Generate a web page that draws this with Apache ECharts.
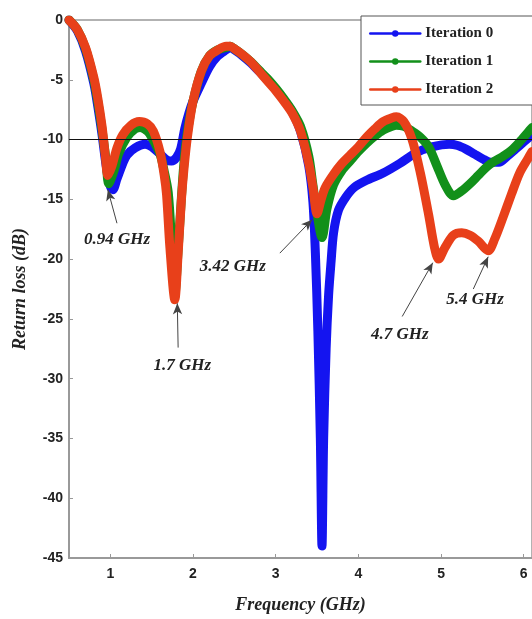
<!DOCTYPE html>
<html>
<head>
<meta charset="utf-8">
<script src="https://cdn.jsdelivr.net/npm/echarts@6/dist/echarts.min.js"></script>
<style>
  html, body { margin: 0; padding: 0; background: #fff; }
  #chart { width: 532px; height: 619px; }
</style>
</head>
<body>
<div id="chart"></div>
<script>
// Iteration 0 (blue)
var freq0 = [0.5, 0.6, 0.7, 0.8, 0.85, 0.9, 0.95, 1.0, 1.03, 1.08, 1.15, 1.2, 1.3, 1.42, 1.5, 1.6, 1.68, 1.74, 1.8, 1.85, 1.9, 1.95, 2.0, 2.1, 2.2, 2.3, 2.4, 2.45, 2.5, 2.6, 2.7, 2.8, 2.9, 3.0, 3.1, 3.2, 3.3, 3.4, 3.45, 3.48, 3.51, 3.54, 3.56, 3.58, 3.61, 3.64, 3.67, 3.7, 3.76, 3.85, 3.95, 4.1, 4.3, 4.5, 4.7, 4.9, 5.1, 5.2, 5.3, 5.4, 5.5, 5.6, 5.7, 5.8, 5.9, 6.0, 6.1];
var loss0 = [0, -0.9, -2.6, -5.3, -7.3, -9.6, -12.2, -13.9, -14.2, -13.3, -12.0, -11.3, -10.7, -10.4, -10.6, -11.2, -11.7, -11.8, -11.5, -10.8, -9.1, -7.8, -6.8, -5.3, -3.9, -3.0, -2.5, -2.3, -2.5, -3.0, -3.6, -4.3, -5.0, -5.8, -6.7, -7.7, -9.3, -12.2, -15.2, -19.5, -26.0, -35.0, -44.0, -35.0, -27.5, -23.0, -20.2, -17.8, -15.9, -14.8, -14.0, -13.4, -12.8, -12.0, -11.1, -10.6, -10.4, -10.5, -10.8, -11.2, -11.6, -11.9, -11.9, -11.4, -10.8, -10.2, -9.6];

// Iteration 1 (green)
var freq1 = [0.5, 0.6, 0.7, 0.8, 0.85, 0.9, 0.95, 0.98, 1.05, 1.1, 1.2, 1.3, 1.36, 1.45, 1.5, 1.6, 1.65, 1.7, 1.74, 1.78, 1.82, 1.86, 1.9, 1.95, 2.0, 2.1, 2.2, 2.3, 2.4, 2.45, 2.5, 2.6, 2.7, 2.8, 2.9, 3.0, 3.1, 3.2, 3.3, 3.4, 3.45, 3.5, 3.56, 3.62, 3.7, 3.8, 3.9, 4.0, 4.1, 4.2, 4.3, 4.4, 4.46, 4.55, 4.65, 4.75, 4.85, 4.95, 5.05, 5.15, 5.25, 5.35, 5.45, 5.55, 5.65, 5.75, 5.85, 5.95, 6.05, 6.1];
var loss1 = [0, -0.8, -2.4, -5.0, -6.9, -9.2, -11.8, -13.7, -12.5, -11.2, -9.8, -9.1, -9.0, -9.3, -9.8, -11.2, -12.6, -14.4, -18.5, -23.0, -19.2, -14.8, -11.2, -8.6, -6.8, -4.3, -3.0, -2.5, -2.3, -2.2, -2.4, -2.9, -3.5, -4.2, -4.9, -5.7, -6.6, -7.6, -8.9, -11.4, -13.8, -16.2, -18.2, -15.8, -13.8, -12.6, -11.8, -11.0, -10.3, -9.7, -9.2, -8.9, -8.8, -8.9, -9.3, -9.8, -10.6, -12.2, -13.8, -14.7, -14.3, -13.7, -13.0, -12.3, -11.8, -11.4, -10.9, -10.2, -9.4, -9.0];

// Iteration 2 (red)
var freq2 = [0.5, 0.6, 0.7, 0.8, 0.85, 0.9, 0.94, 0.97, 1.02, 1.08, 1.15, 1.25, 1.35, 1.45, 1.52, 1.6, 1.65, 1.68, 1.72, 1.78, 1.82, 1.86, 1.89, 1.93, 2.0, 2.1, 2.2, 2.3, 2.4, 2.45, 2.5, 2.6, 2.7, 2.8, 2.9, 3.0, 3.1, 3.2, 3.3, 3.4, 3.45, 3.5, 3.55, 3.6, 3.7, 3.8, 3.9, 4.0, 4.1, 4.2, 4.3, 4.4, 4.46, 4.55, 4.65, 4.75, 4.85, 4.92, 4.97, 5.05, 5.15, 5.25, 5.35, 5.45, 5.57, 5.65, 5.75, 5.85, 5.95, 6.05, 6.1];
var loss2 = [0, -0.8, -2.3, -4.8, -6.6, -8.9, -11.4, -13.0, -12.2, -10.7, -9.6, -8.8, -8.5, -8.7, -9.3, -11.0, -12.9, -14.6, -19.0, -23.4, -19.5, -15.0, -12.5, -9.9, -6.8, -4.3, -3.0, -2.5, -2.2, -2.2, -2.4, -2.9, -3.5, -4.3, -5.1, -5.9, -6.8, -7.8, -9.3, -12.0, -14.0, -16.2, -15.0, -14.0, -12.9, -12.0, -11.3, -10.6, -9.8, -9.1, -8.5, -8.2, -8.1, -8.5, -10.0, -12.8, -16.3, -19.0, -20.0, -19.0, -18.0, -17.8, -18.0, -18.5, -19.3, -18.3, -16.5, -14.6, -12.8, -11.6, -11.0];

var seriesNames = ['Iteration 0', 'Iteration 1', 'Iteration 2'];
var seriesColors = ['#1414f0', '#12901a', '#e8401a'];

var xTicks = [1, 2, 3, 4, 5, 6];

// annotations: text, text centre, arrow tail, arrow tip (data coords)
var annoText = ['0.94 GHz', '1.7 GHz', '3.42 GHz', '4.7 GHz', '5.4 GHz'];
var annoTextAt = [[1.08, -18.4], [1.87, -28.9], [2.48, -20.6], [4.50, -26.3], [5.41, -23.4]];
var annoTail = [[1.08, -17.0], [1.82, -27.4], [3.05, -19.5], [4.53, -24.8], [5.39, -22.5]];
var annoTip = [[0.97, -14.2], [1.81, -23.7], [3.44, -16.7], [4.90, -20.3], [5.57, -19.8]];

function pairs(xs, ys) {
    return xs.map(function (x, i) { return [x, ys[i]]; });
}

var chart = echarts.init(document.getElementById('chart'));

var labelFont = {
    fontFamily: 'Liberation Sans',
    fontWeight: 'bold',
    fontSize: 14,
    color: '#222'
};
var nameFont = {
    fontFamily: 'Liberation Serif',
    fontWeight: 'bold',
    fontStyle: 'italic',
    fontSize: 18,
    color: '#222'
};

var allData = [pairs(freq0, loss0), pairs(freq1, loss1), pairs(freq2, loss2)];

var series = allData.map(function (d, i) {
    return {
        name: seriesNames[i],
        type: 'line',
        data: d,
        smooth: 0.3,
        symbol: 'circle',
        symbolSize: 6,
        showSymbol: false,
        color: seriesColors[i],
        lineStyle: { width: 9, color: seriesColors[i], cap: 'round', join: 'round' },
        animation: false
    };
});

// -10 dB reference line and annotations go on the top series
series[2].markLine = {
    silent: true,
    animation: false,
    symbol: ['none', 'none'],
    label: { show: false },
    lineStyle: { color: '#111', width: 1, type: 'solid' },
    data: [{ yAxis: -10 }].concat(annoTail.map(function (t, i) {
        return [
            { coord: t, symbol: 'none', lineStyle: { color: '#444', width: 1 } },
            { coord: annoTip[i], symbol: 'arrow', symbolSize: [7, 11], lineStyle: { color: '#444', width: 1 }, itemStyle: { color: '#000' } }
        ];
    }))
};
series[2].markPoint = {
    silent: true,
    animation: false,
    symbol: 'circle',
    symbolSize: 1,
    itemStyle: { color: 'rgba(0,0,0,0)' },
    label: Object.assign({ show: true, position: 'inside', formatter: '{b}' }, nameFont, { fontSize: 17 }),
    data: annoTextAt.map(function (p, i) {
        return { name: annoText[i], coord: p };
    })
};

chart.setOption({
    backgroundColor: '#fff',
    animation: false,
    grid: {
        left: 69, right: 0, top: 20, bottom: 52,
        show: true, borderColor: '#999', borderWidth: 1.5
    },
    legend: {
        data: seriesNames,
        orient: 'vertical',
        left: 361, top: 16,
        padding: [10, 60, 8, 8],
        itemWidth: 50, itemHeight: 8, itemGap: 13,
        backgroundColor: '#fff',
        borderColor: '#555', borderWidth: 1,
        lineStyle: { width: 2.5 },
        textStyle: { fontFamily: 'Liberation Serif', fontWeight: 'bold', fontSize: 15, color: '#222' }
    },
    xAxis: {
        type: 'value',
        min: 0.5, max: 6.1,
        name: 'Frequency (GHz)',
        nameLocation: 'middle',
        nameGap: 38,
        nameTextStyle: nameFont,
        axisLine: { show: true, onZero: false, lineStyle: { color: '#999', width: 2 } },
        axisTick: { inside: true, length: 4, customValues: xTicks, lineStyle: { color: '#999' } },
        axisLabel: Object.assign({ customValues: xTicks, margin: 9 }, labelFont),
        splitLine: { show: false }
    },
    yAxis: {
        type: 'value',
        min: -45, max: 0, interval: 5,
        name: 'Return loss (dB)',
        nameLocation: 'middle',
        nameGap: 40,
        nameTextStyle: nameFont,
        axisLine: { show: true, lineStyle: { color: '#999', width: 2 } },
        axisTick: { show: true, inside: true, length: 4, lineStyle: { color: '#999' } },
        axisLabel: Object.assign({ margin: 6 }, labelFont),
        splitLine: { show: false }
    },
    series: series
});
</script>
</body>
</html>
